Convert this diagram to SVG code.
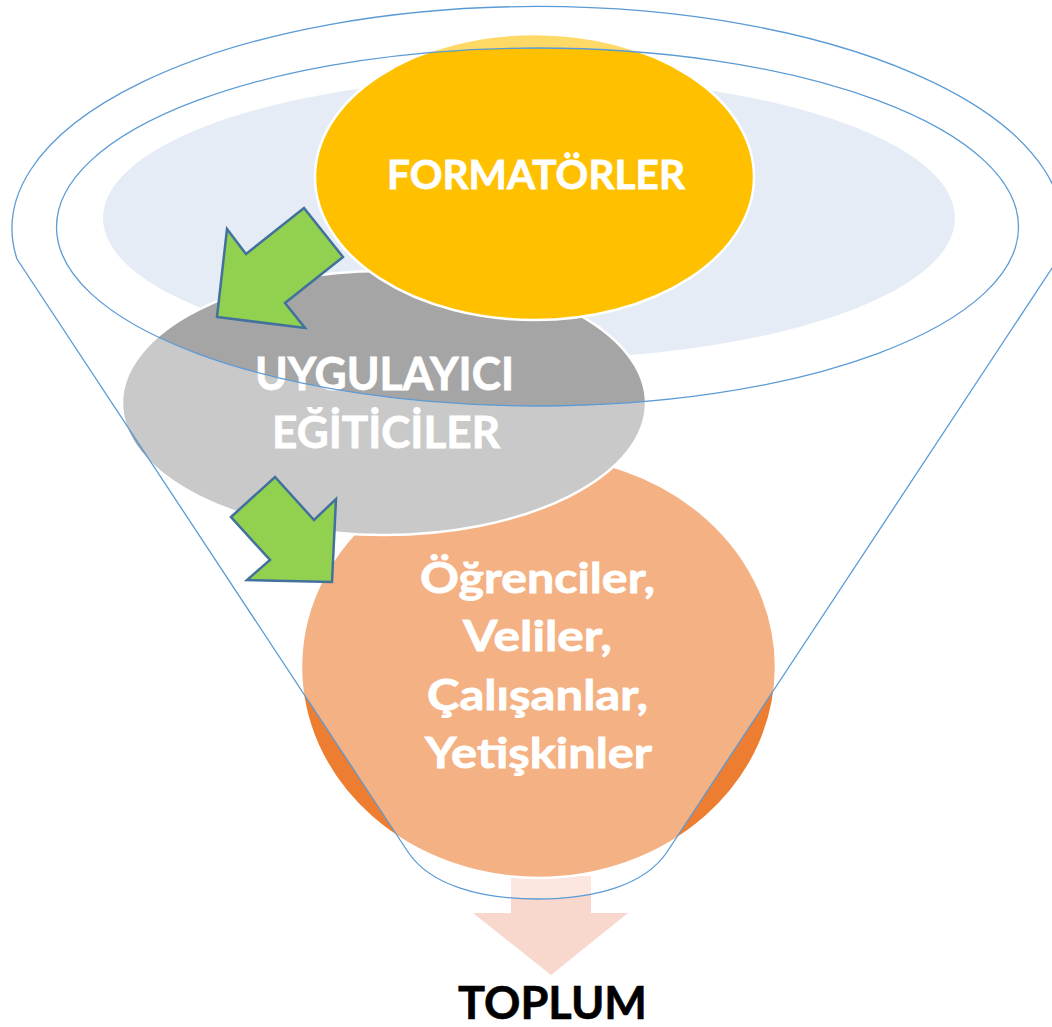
<svg xmlns="http://www.w3.org/2000/svg" width="1052" height="1027" viewBox="0 0 1052 1027">
<style>
.lbl{font-family:Lato,"Liberation Sans",Arial,sans-serif;font-weight:700;fill:#ffffff;stroke:#ffffff;stroke-width:0.8;text-anchor:middle}
.node{stroke:#ffffff;stroke-width:2.5}
.green{fill:#92D050;stroke:#41719C;stroke-width:2.5;stroke-linejoin:miter}
</style>
<rect width="1052" height="1027" fill="#ffffff"/>
<ellipse id="inner-fill" cx="529" cy="218" rx="426" ry="141" fill="#E6ECF6"/>
<g id="flow-toplum">
<path d="M511 876 L591 876 L591 913 L628 913 L551 975 L473 913 L511 913 Z" fill="#F8D7CC"/>
</g>
<g id="node-ogrenciler">
<ellipse class="node" cx="538.5" cy="667" rx="237.5" ry="211" fill="#ED7D31"/>
<text class="lbl" font-size="42" x="537.5" y="593" textLength="235" lengthAdjust="spacingAndGlyphs">Öğrenciler,</text>
<text class="lbl" font-size="42" x="537.5" y="651" textLength="149" lengthAdjust="spacingAndGlyphs">Veliler,</text>
<text class="lbl" font-size="42" x="537.5" y="710" textLength="221" lengthAdjust="spacingAndGlyphs">Çalışanlar,</text>
<text class="lbl" font-size="42" x="538.5" y="768" textLength="227" lengthAdjust="spacingAndGlyphs">Yetişkinler</text>
</g>
<g id="node-uygulayici">
<ellipse class="node" cx="384" cy="403" rx="262" ry="132" fill="#A5A5A5"/>
<text class="lbl" font-size="46" x="384.5" y="390" textLength="259" lengthAdjust="spacingAndGlyphs">UYGULAYICI</text>
<text class="lbl" font-size="44" x="386" y="448" textLength="228" lengthAdjust="spacingAndGlyphs">EĞİTİCİLER</text>
</g>
<g id="node-formatorler">
<ellipse class="node" cx="534.5" cy="177" rx="219.5" ry="143" fill="#FFC000"/>
<text class="lbl" font-size="41" x="536" y="189" textLength="298" lengthAdjust="spacingAndGlyphs">FORMATÖRLER</text>
</g>
<g id="funnel">
<path d="M17 259 A525.5 222 0 1 1 1058 259 L667 852 C645 885 595 899 537.5 899 C480 899 430 885 408 852 Z M56.5 227 A481 179 0 1 0 1018.5 227 A481 179 0 1 0 56.5 227 Z" fill="#ffffff" fill-opacity="0.4" fill-rule="evenodd" stroke="#5B9BD5" stroke-width="1.3"/>
</g>
<g id="connectors">
<path class="green" d="M217 317 L227 229 L246 254 L304 208 L343 257 L285 303 L305 328 Z"/>
<path class="green" d="M231 517 L275 477 L314 520 L336 499 L332 582 L247 580 L270 560 Z"/>
</g>
<g id="label-toplum">
<text font-family="Lato,'Liberation Sans',Arial,sans-serif" font-weight="700" font-size="46" fill="#000000" stroke="#000000" stroke-width="0.6" text-anchor="middle" x="552.5" y="1019" textLength="189" lengthAdjust="spacingAndGlyphs">TOPLUM</text>
</g>
</svg>
